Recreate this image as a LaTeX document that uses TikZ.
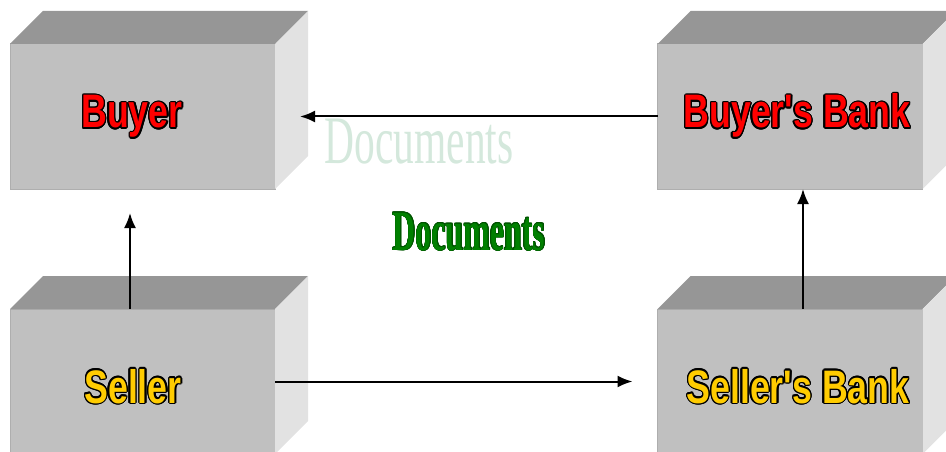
\documentclass[tikz,border=0pt]{standalone}
\usepackage{fontspec}
\usepackage{contour}
\usetikzlibrary{arrows.meta}

\newfontfamily\boxfont[FakeStretch=0.76]{Liberation Sans}
\newfontfamily\docfont[FakeStretch=0.61]{Liberation Serif}
\newfontfamily\docboldfont[FakeStretch=0.56]{Liberation Serif}

\definecolor{frontgray}{RGB}{192,192,192}
\definecolor{topgray}{RGB}{150,150,150}
\definecolor{sidegray}{RGB}{226,226,226}
\definecolor{edgegray}{RGB}{174,174,174}
\definecolor{gold}{RGB}{255,204,0}
\definecolor{palegreen}{RGB}{212,232,220}
\definecolor{docgreen}{RGB}{0,128,0}
\definecolor{docedge}{RGB}{0,82,0}
\contourlength{1.3pt}

\tikzset{
    boxfront/.style={rectangle, fill=frontgray, draw=edgegray, line width=1pt,
        minimum width=265pt, minimum height=145pt, inner sep=0pt, outer sep=0pt},
    boxlabel/.style={anchor=base, inner sep=0pt,
        font=\boxfont\bfseries\fontsize{47}{50}\selectfont},
    flow/.style={line width=2pt, -{Latex[length=15pt,width=12pt]}}
}

% top and right side of a box drawn behind its front face
\newcommand\boxsides[1]{%
    \fill[topgray] (#1.north west) -- ++(33,-33) -- ([shift={(33,-33)}]#1.north east) -- (#1.north east) -- cycle;
    \fill[sidegray] (#1.north east) -- ++(33,-33) -- ([shift={(33,-33)}]#1.south east) -- (#1.south east) -- cycle;
}

\begin{document}
\begin{tikzpicture}[x=1pt, y=-1pt]
        \clip (0,0) rectangle (946,452);

        %boxes
        \node[boxfront] (buyer) at (142.5,116.5) {};
        \node[boxfront] (bbank) at (790,116.5) {};
        \node[boxfront] (seller) at (142.5,381.5) {};
        \node[boxfront] (sbank) at (790,381.5) {};
        \boxsides{buyer}
        \boxsides{bbank}
        \boxsides{seller}
        \boxsides{sbank}

        %names
        \node[boxlabel, text=red] (buyerlbl) at (132,128) {\contour{black}{Buyer}};
        \node[boxlabel, text=red] (bbanklbl) at (797,128) {\contour{black}{Buyer's Bank}};
        \node[boxlabel, text=gold] (sellerlbl) at (133,403) {\contour{black}{Seller}};
        \node[boxlabel, text=gold] (sbanklbl) at (798,403) {\contour{black}{Seller's Bank}};

        %arrows
        \draw[flow] (bbank.west) -- ([xshift=25pt]buyer.east);
        \draw[flow] (seller.east) -- ([xshift=-25pt]sbank.west);
        \draw[flow] ([xshift=-12.5pt]seller.north) -- ([xshift=-12.5pt, yshift=-24pt]buyer.south);
        \draw[flow] ([xshift=13pt]sbank.north) -- ([xshift=13pt]bbank.south);

        %documents
        \node[anchor=base, inner sep=0pt, text=palegreen, font=\docfont\fontsize{68}{70}\selectfont]
            (docpale) at (419,163) {Documents};
        \node[anchor=base, inner sep=0pt, text=docgreen, font=\docboldfont\bfseries\fontsize{57}{59}\selectfont]
            (docdark) at (469,250) {\contourlength{0.6pt}\contour{docedge}{Documents}};
\end{tikzpicture}
\end{document}
